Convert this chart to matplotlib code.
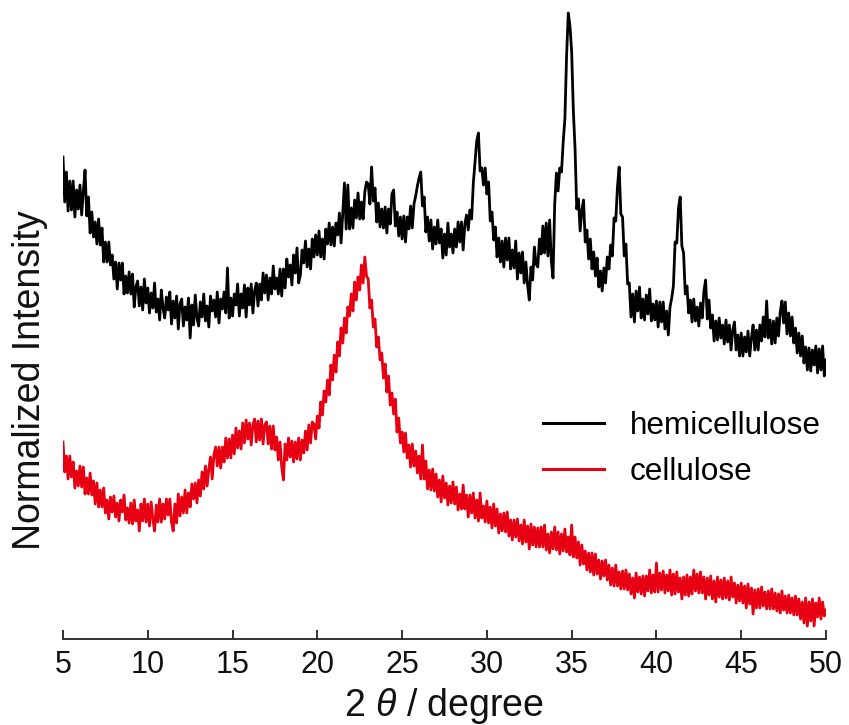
import numpy as np
import matplotlib
matplotlib.use("Agg")
import matplotlib.pyplot as plt

plt.rcParams['font.family'] = ['Liberation Sans', 'DejaVu Sans']
plt.rcParams['mathtext.fontset'] = 'custom'
plt.rcParams['mathtext.rm'] = 'Liberation Sans'
plt.rcParams['mathtext.it'] = 'Liberation Sans:italic'

# 2-theta sampling grid (degrees), 0.1 degree steps from 5 to 50
two_theta = np.linspace(5, 50, 451)

# hemicellulose intensity (arbitrary units)
hemicellulose = [
    481, 436, 466, 427, 457, 428, 457, 421, 448, 429,
    453, 423, 447, 468, 422, 441, 405, 426, 401, 416,
    394, 419, 393, 410, 376, 396, 376, 396, 373, 383,
    359, 376, 349, 375, 358, 375, 344, 362, 345, 366,
    344, 364, 331, 351, 357, 332, 351, 328, 359, 335,
    350, 325, 345, 330, 355, 326, 339, 318, 348, 330,
    320, 341, 328, 346, 314, 337, 320, 342, 309, 334,
    339, 312, 331, 318, 340, 300, 333, 313, 343, 320,
    312, 336, 321, 344, 317, 332, 311, 342, 327, 338,
    321, 346, 315, 339, 329, 346, 325, 370, 320, 340,
    322, 344, 333, 354, 322, 344, 330, 353, 321, 350,
    333, 354, 325, 347, 355, 332, 354, 338, 365, 345,
    363, 338, 360, 344, 372, 349, 360, 344, 369, 342,
    369, 350, 379, 361, 373, 353, 383, 365, 390, 355,
    363, 388, 375, 397, 371, 389, 369, 399, 381, 403,
    383, 407, 381, 399, 379, 409, 394, 415, 393, 411,
    392, 415, 403, 425, 395, 425, 455, 409, 453, 409,
    430, 410, 438, 420, 445, 419, 436, 419, 446, 456,
    454, 434, 471, 437, 450, 416, 435, 411, 429, 410,
    431, 405, 429, 414, 444, 448, 412, 426, 402, 421,
    399, 422, 396, 421, 409, 432, 410, 434, 442, 452,
    460, 466, 432, 441, 406, 421, 397, 418, 389, 411,
    394, 418, 395, 409, 380, 404, 383, 415, 391, 404,
    385, 409, 391, 416, 396, 416, 388, 414, 423, 408,
    428, 419, 455, 476, 497, 505, 467, 470, 453, 470,
    444, 456, 417, 426, 398, 411, 381, 400, 376, 397,
    371, 400, 378, 400, 369, 388, 370, 397, 359, 385,
    365, 386, 355, 376, 353, 338, 371, 358, 391, 374,
    371, 399, 384, 412, 385, 415, 382, 418, 377, 360,
    434, 465, 447, 470, 466, 496, 519, 582, 625, 612,
    586, 527, 489, 429, 439, 407, 428, 438, 396, 408,
    379, 399, 369, 386, 362, 380, 351, 367, 347, 370,
    355, 381, 369, 393, 382, 420, 417, 451, 471, 424,
    421, 382, 394, 354, 355, 321, 344, 316, 347, 327,
    351, 320, 339, 318, 343, 324, 349, 317, 334, 318,
    337, 311, 336, 316, 336, 309, 327, 303, 331, 340,
    352, 396, 395, 430, 441, 392, 385, 344, 352, 325,
    338, 316, 339, 317, 331, 312, 335, 320, 347, 358,
    319, 338, 310, 323, 297, 317, 298, 320, 300, 313,
    294, 318, 296, 313, 288, 308, 316, 288, 303, 282,
    305, 282, 301, 286, 307, 282, 300, 313, 288, 308,
    288, 313, 297, 321, 301, 337, 300, 318, 294, 317,
    295, 320, 302, 326, 337, 315, 336, 304, 325, 302,
    321, 295, 310, 285, 305, 282, 302, 275, 291, 268,
    290, 267, 288, 273, 292, 265, 289, 268, 292, 262,
    278,
]

# cellulose intensity (arbitrary units)
cellulose = [
    196, 166, 182, 159, 182, 161, 176, 150, 167, 152,
    172, 151, 171, 144, 160, 144, 165, 143, 157, 134,
    155, 131, 148, 131, 150, 125, 138, 119, 141, 126,
    142, 121, 135, 117, 138, 126, 143, 118, 130, 115,
    135, 114, 138, 117, 128, 107, 134, 117, 139, 116,
    134, 112, 136, 119, 107, 133, 116, 139, 116, 134,
    119, 139, 123, 139, 116, 107, 134, 115, 144, 122,
    141, 125, 148, 125, 145, 131, 154, 139, 155, 135,
    158, 142, 166, 149, 172, 152, 169, 181, 159, 183,
    191, 172, 191, 170, 191, 176, 200, 180, 199, 180,
    203, 184, 210, 190, 207, 189, 215, 195, 218, 199,
    215, 193, 213, 219, 196, 217, 198, 219, 194, 213,
    216, 194, 212, 189, 212, 188, 201, 178, 196, 171,
    158, 194, 178, 200, 181, 197, 176, 196, 179, 200,
    178, 198, 185, 207, 188, 213, 195, 216, 214, 199,
    222, 210, 236, 223, 247, 236, 258, 243, 273, 258,
    283, 266, 296, 282, 310, 295, 320, 305, 331, 322,
    344, 327, 356, 338, 361, 348, 373, 355, 381, 362,
    359, 330, 338, 311, 319, 291, 301, 278, 285, 260,
    274, 246, 262, 233, 245, 224, 239, 206, 220, 195,
    206, 186, 205, 180, 193, 171, 194, 172, 187, 165,
    182, 159, 193, 159, 177, 149, 168, 148, 169, 147,
    164, 141, 158, 136, 162, 140, 155, 133, 152, 135,
    156, 134, 151, 128, 144, 129, 153, 129, 143, 121,
    143, 125, 145, 120, 138, 117, 145, 120, 132, 116,
    137, 115, 131, 110, 134, 112, 129, 105, 124, 107,
    125, 106, 126, 102, 118, 98, 118, 101, 119, 97,
    113, 94, 118, 96, 112, 89, 114, 93, 111, 91,
    110, 91, 111, 91, 113, 88, 104, 85, 106, 89,
    111, 88, 106, 84, 104, 87, 109, 86, 101, 83,
    113, 81, 101, 80, 96, 73, 93, 74, 87, 68,
    85, 66, 85, 63, 84, 64, 78, 59, 77, 62,
    78, 58, 73, 53, 70, 52, 73, 52, 66, 49,
    67, 49, 68, 48, 64, 44, 60, 40, 65, 46,
    61, 44, 62, 42, 62, 47, 68, 45, 63, 46,
    75, 46, 65, 48, 67, 45, 63, 47, 68, 43,
    64, 44, 66, 46, 60, 39, 61, 43, 63, 42,
    61, 44, 68, 47, 64, 45, 66, 45, 61, 39,
    60, 43, 62, 39, 57, 36, 61, 41, 58, 39,
    60, 40, 57, 38, 61, 41, 55, 35, 53, 37,
    55, 35, 52, 30, 54, 34, 50, 24, 48, 30,
    49, 30, 51, 32, 46, 29, 47, 29, 49, 29,
    45, 27, 44, 25, 47, 28, 42, 25, 43, 25,
    40, 23, 42, 23, 39, 19, 36, 15, 40, 12,
    36, 17, 39, 12, 35, 21, 40, 19, 36, 22,
    28,
]

xticks = [5, 10, 15, 20, 25, 30, 35, 40, 45, 50]
series_labels = ['hemicellulose', 'cellulose']
series_colors = ['#000000', '#e60012']

W, H = 849, 725
fig = plt.figure(figsize=(W / 100, H / 100), dpi=100)
ax = fig.add_axes([63 / W, 86 / H, 763 / W, 634 / H])

ax.plot(two_theta, hemicellulose, color=series_colors[0], lw=2.0, label=series_labels[0])
ax.plot(two_theta, cellulose, color=series_colors[1], lw=2.0, label=series_labels[1])

ax.set_xlim(5, 50)
ax.set_ylim(-1, 633)
ax.set_xticks(xticks)
ax.set_xticklabels([str(t) for t in xticks])
ax.set_yticks([])

for s in ['left', 'top', 'right']:
    ax.spines[s].set_visible(False)
ax.spines['bottom'].set_linewidth(1.3)
ax.spines['bottom'].set_color('#222222')
ax.tick_params(axis='x', direction='in', length=6.5, width=1.3, labelsize=22, pad=8,
               color='#222222', labelcolor='#111111')

ax.set_xlabel(r'2 $\theta$ / degree', fontsize=27, color='#111111', labelpad=4)
ax.set_ylabel('Normalized Intensity', fontsize=27, color='#111111', va='center')
ax.yaxis.set_label_coords((30 - 63) / 763, 0.408)

leg = ax.legend(loc='center left', bbox_to_anchor=(0.629, 0.30), frameon=False,
                fontsize=22.7, handlelength=1.95, handletextpad=0.8,
                borderpad=0, borderaxespad=0, labelspacing=0.5)
for line in leg.get_lines():
    line.set_linewidth(2.2)

fig.savefig('out.png', dpi=100)
